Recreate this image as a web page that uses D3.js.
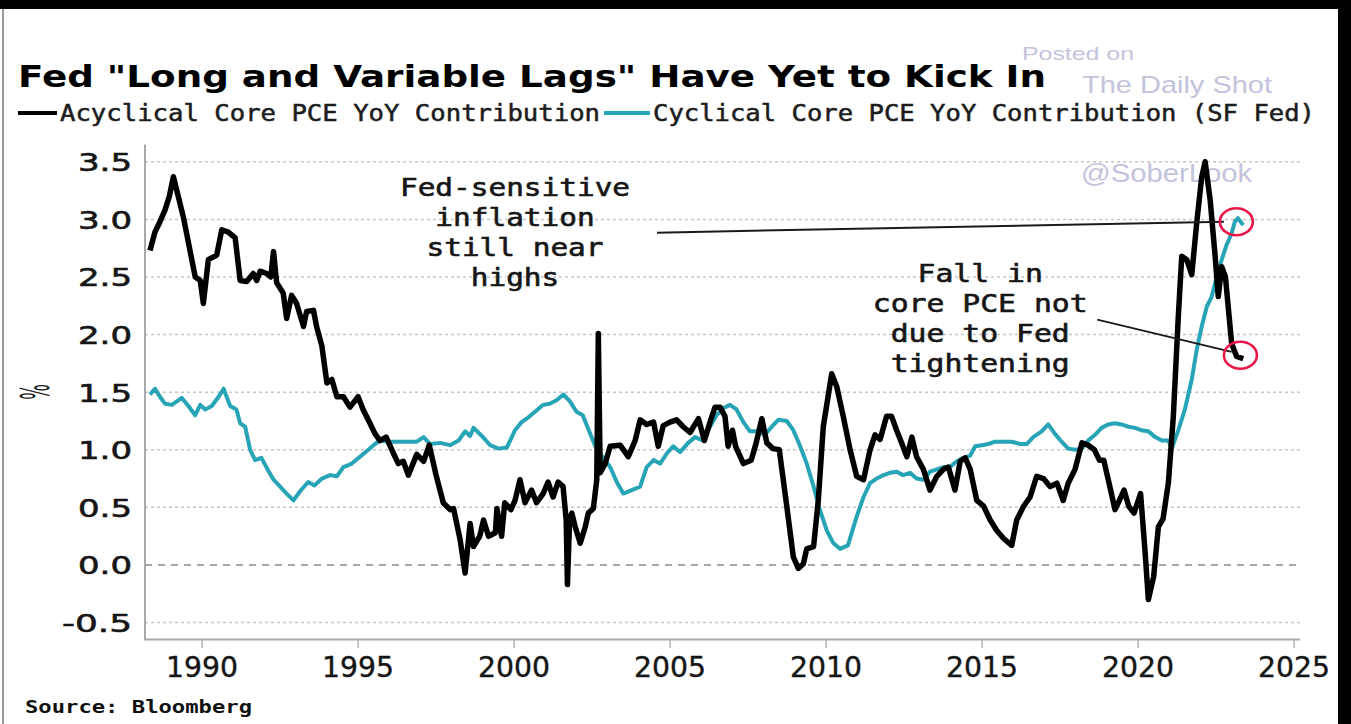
<!DOCTYPE html>
<html><head><meta charset="utf-8">
<script src="https://cdn.jsdelivr.net/npm/d3@7"></script>
<style>body{margin:0;background:#fff;overflow:hidden} svg{display:block}</style>
</head><body><svg id="c" width="1351" height="724"></svg>
<script>
const chartTitle = 'Fed "Long and Variable Lags" Have Yet to Kick In';
const seriesNames = ["Acyclical Core PCE YoY Contribution", "Cyclical Core PCE YoY Contribution (SF Fed)"];
const seriesColors = ["#000000", "#27a4b6"];

const acyclicalDates = [1988.33,1988.49,1988.65,1988.81,1988.95,1989.08,1989.4,1989.78,1989.94,1990.04,1990.2,1990.47,1990.63,1990.84,1991.06,1991.22,1991.43,1991.64,1991.75,1991.86,1992.07,1992.2,1992.29,1992.39,1992.6,1992.71,1992.87,1993.03,1993.25,1993.35,1993.57,1993.67,1993.84,1994.0,1994.16,1994.32,1994.53,1994.74,1995.0,1995.16,1995.38,1995.54,1995.7,1995.9,1996.13,1996.29,1996.45,1996.61,1996.88,1997.1,1997.28,1997.5,1997.73,1997.95,1998.06,1998.27,1998.43,1998.59,1998.7,1998.9,1999.02,1999.18,1999.4,1999.45,1999.6,1999.7,1999.9,2000.03,2000.19,2000.35,2000.56,2000.72,2000.93,2001.09,2001.25,2001.41,2001.57,2001.67,2001.71,2001.78,2001.85,2001.96,2002.12,2002.28,2002.38,2002.54,2002.65,2002.7,2002.76,2002.92,2003.08,2003.4,2003.66,2003.88,2004.04,2004.25,2004.47,2004.62,2004.78,2005.0,2005.21,2005.42,2005.64,2005.91,2006.1,2006.28,2006.44,2006.6,2006.76,2006.86,2007.0,2007.1,2007.35,2007.6,2007.76,2007.94,2008.1,2008.3,2008.5,2008.74,2008.95,2009.11,2009.27,2009.38,2009.6,2009.75,2009.91,2010.18,2010.34,2010.55,2010.77,2010.98,2011.2,2011.41,2011.57,2011.73,2011.94,2012.1,2012.26,2012.42,2012.59,2012.75,2012.9,2013.12,2013.33,2013.55,2013.76,2013.92,2014.13,2014.3,2014.46,2014.62,2014.83,2015.05,2015.26,2015.47,2015.69,2015.95,2016.11,2016.33,2016.54,2016.75,2016.97,2017.18,2017.4,2017.6,2017.76,2017.98,2018.2,2018.4,2018.6,2018.76,2018.9,2019.07,2019.26,2019.4,2019.55,2019.7,2019.87,2020.08,2020.22,2020.33,2020.5,2020.65,2020.8,2020.97,2021.13,2021.29,2021.4,2021.56,2021.72,2021.88,2022.04,2022.15,2022.31,2022.47,2022.57,2022.68,2022.8,2022.89,2023.0,2023.16,2023.37];
const acyclicalValues = [2.73,2.89,2.98,3.08,3.2,3.37,3.02,2.5,2.47,2.27,2.65,2.69,2.91,2.89,2.84,2.47,2.46,2.53,2.47,2.55,2.53,2.5,2.72,2.45,2.36,2.14,2.34,2.27,2.07,2.2,2.21,2.07,1.9,1.58,1.61,1.46,1.46,1.37,1.46,1.35,1.23,1.14,1.08,1.11,0.97,0.88,0.9,0.78,0.96,0.9,1.04,0.78,0.54,0.48,0.49,0.22,-0.07,0.36,0.16,0.25,0.39,0.25,0.28,0.49,0.25,0.54,0.48,0.56,0.74,0.54,0.65,0.54,0.62,0.72,0.59,0.72,0.68,0.39,-0.17,0.4,0.45,0.33,0.19,0.33,0.45,0.49,0.74,2.01,0.8,0.88,1.03,1.04,0.94,1.08,1.26,1.22,1.24,1.03,1.21,1.24,1.26,1.2,1.15,1.27,1.08,1.24,1.37,1.37,1.29,1.03,1.17,1.03,0.88,0.91,1.06,1.27,1.06,1.01,1.0,0.51,0.07,-0.03,0.01,0.14,0.16,0.56,1.2,1.66,1.55,1.29,1.0,0.77,0.74,1.0,1.13,1.09,1.29,1.29,1.17,1.06,0.94,1.11,0.94,0.83,0.65,0.77,0.83,0.85,0.65,0.9,0.93,0.83,0.56,0.51,0.39,0.3,0.23,0.17,0.39,0.51,0.59,0.77,0.75,0.68,0.71,0.56,0.71,0.83,1.06,1.04,1.0,0.91,0.91,0.71,0.48,0.56,0.65,0.51,0.45,0.62,0.13,-0.3,-0.1,0.33,0.4,0.71,1.29,2.16,2.68,2.65,2.52,2.97,3.37,3.5,3.17,2.68,2.33,2.59,2.5,2.24,1.92,1.81,1.79];

const cyclicalDates = [1988.33,1988.49,1988.65,1988.81,1989.03,1989.35,1989.56,1989.78,1989.94,1990.1,1990.31,1990.53,1990.69,1990.9,1991.1,1991.22,1991.38,1991.54,1991.7,1991.9,1992.12,1992.29,1992.5,1992.71,1992.93,1993.14,1993.4,1993.6,1993.84,1994.1,1994.32,1994.53,1994.8,1995.06,1995.33,1995.54,1995.7,1996.03,1996.45,1996.88,1997.1,1997.31,1997.63,1997.95,1998.22,1998.43,1998.59,1998.7,1998.97,1999.23,1999.5,1999.77,2000.03,2000.24,2000.45,2000.67,2000.93,2001.14,2001.36,2001.58,2001.79,2002.0,2002.2,2002.44,2002.65,2002.86,2003.08,2003.29,2003.5,2003.77,2004.04,2004.25,2004.47,2004.68,2004.9,2005.1,2005.32,2005.58,2005.8,2006.06,2006.28,2006.49,2006.7,2006.92,2007.13,2007.35,2007.56,2007.78,2008.04,2008.26,2008.47,2008.74,2008.95,2009.17,2009.38,2009.6,2009.8,2010.02,2010.23,2010.45,2010.7,2010.98,2011.2,2011.41,2011.62,2011.84,2012.05,2012.26,2012.47,2012.69,2012.9,2013.12,2013.33,2013.55,2013.76,2013.97,2014.19,2014.4,2014.62,2014.78,2014.99,2015.2,2015.42,2015.69,2015.95,2016.22,2016.43,2016.64,2016.91,2017.12,2017.33,2017.55,2017.76,2017.98,2018.2,2018.4,2018.62,2018.83,2019.04,2019.26,2019.47,2019.69,2019.9,2020.1,2020.33,2020.55,2020.76,2020.97,2021.08,2021.29,2021.5,2021.72,2021.88,2022.04,2022.2,2022.36,2022.52,2022.68,2022.84,2023.0,2023.1,2023.2,2023.37];
const cyclicalValues = [1.48,1.53,1.46,1.4,1.39,1.45,1.38,1.3,1.39,1.35,1.38,1.46,1.53,1.38,1.35,1.23,1.2,1.0,0.91,0.93,0.82,0.74,0.68,0.62,0.56,0.64,0.72,0.69,0.75,0.78,0.77,0.85,0.88,0.94,1.0,1.05,1.08,1.07,1.07,1.07,1.11,1.05,1.06,1.04,1.08,1.16,1.12,1.19,1.12,1.04,1.01,1.02,1.17,1.24,1.28,1.33,1.39,1.4,1.43,1.48,1.42,1.33,1.3,1.14,1.0,0.93,0.85,0.72,0.62,0.65,0.68,0.85,0.91,0.88,0.97,1.03,0.98,1.06,1.11,1.08,1.2,1.3,1.36,1.39,1.35,1.24,1.16,1.16,1.13,1.2,1.26,1.25,1.17,1.03,0.88,0.68,0.48,0.3,0.19,0.14,0.17,0.42,0.59,0.71,0.75,0.78,0.8,0.81,0.78,0.8,0.75,0.74,0.81,0.83,0.85,0.85,0.9,0.93,0.95,1.03,1.04,1.05,1.07,1.07,1.07,1.05,1.05,1.11,1.16,1.22,1.14,1.07,1.01,1.0,1.01,1.08,1.13,1.19,1.22,1.23,1.22,1.2,1.19,1.17,1.16,1.11,1.08,1.08,1.01,1.17,1.35,1.61,1.87,2.07,2.24,2.33,2.5,2.65,2.78,2.88,2.98,3.01,2.95];

const yTicks = [-0.5, 0, 0.5, 1, 1.5, 2, 2.5, 3, 3.5];
const yTickLabels = ["-0.5", "0.0", "0.5", "1.0", "1.5", "2.0", "2.5", "3.0", "3.5"];
const xTicks = [1990, 1995, 2000, 2005, 2010, 2015, 2020, 2025];
const xTickLabels = ["1990", "1995", "2000", "2005", "2010", "2015", "2020", "2025"];

const note1Lines = ["Fed-sensitive", "inflation", "still near", "highs"];
const note2Lines = ["Fall in", "core PCE not", "due to Fed", "tightening"];
// [date, value] anchors for annotation text, leader lines and circled points
const note1Anchor = [2000.03, 3.20];
const note2Anchor = [2014.94, 2.46];
const leader1 = [[2004.58, 2.885], [2022.75, 2.98]];
const leader2 = [[2018.69, 2.13], [2023.0, 1.85]];
const circledDates = [2023.15, 2023.28];
const circledValues = [2.98, 1.82];
const sourceText = "Source: Bloomberg";
const watermark = ["Posted on", "The Daily Shot", "@SoberLook"];

const svg = d3.select("#c");
const W = 1351, H = 724;
svg.append("rect").attr("width", W).attr("height", H).attr("fill", "#fff");

const x = d3.scaleLinear().domain([1988.17, 2025.19]).range([145, 1300]);
const y = d3.scaleLinear().domain([-0.64, 3.65]).range([638.7, 144.5]);

// frame bits
svg.append("rect").attr("x", 0).attr("y", 0).attr("width", W).attr("height", 9).attr("fill", "#000");
svg.append("rect").attr("x", 1338).attr("y", 0).attr("width", 13).attr("height", H).attr("fill", "#000");
svg.append("line").attr("x1", 3).attr("x2", 3).attr("y1", 9).attr("y2", H).attr("stroke", "#9a9a9a").attr("stroke-width", 2);

// watermark
const wm = svg.append("g").attr("fill", "#c3c3dc").attr("font-family", "Liberation Sans, Arial, sans-serif");
wm.append("text").attr("x", 1022).attr("y", 60).attr("font-size", 18).attr("textLength", 112).attr("lengthAdjust", "spacingAndGlyphs").text(watermark[0]);
wm.append("text").attr("x", 1082).attr("y", 93).attr("font-size", 24).attr("textLength", 190).attr("lengthAdjust", "spacingAndGlyphs").text(watermark[1]);
wm.append("text").attr("x", 1081).attr("y", 182).attr("font-size", 25).attr("textLength", 171)
  .attr("lengthAdjust", "spacingAndGlyphs").text(watermark[2]);

// title
svg.append("text").attr("x", 18).attr("y", 87).attr("font-family", "DejaVu Sans, Verdana, sans-serif")
  .attr("font-weight", "bold").attr("font-size", 30).attr("fill", "#000")
  .attr("textLength", 1028).attr("lengthAdjust", "spacingAndGlyphs").text(chartTitle);

// legend
const lg = svg.append("g").attr("font-family", "DejaVu Sans Mono, monospace").attr("font-size", 23)
  .attr("fill", "#1c1c1c").attr("stroke", "#1c1c1c").attr("stroke-width", 0.5);
const legendItems = [
  {x0: 18, x1: 57, tx: 60, tw: 540},
  {x0: 604, x1: 650, tx: 653, tw: 662}
];
legendItems.forEach((d, i) => {
  lg.append("line").attr("x1", d.x0).attr("x2", d.x1).attr("y1", 113).attr("y2", 113)
    .attr("stroke", seriesColors[i]).attr("stroke-width", 4);
  lg.append("text").attr("x", d.tx).attr("y", 121).attr("textLength", d.tw)
    .attr("lengthAdjust", "spacingAndGlyphs").text(seriesNames[i]);
});

// grid
const grid = svg.append("g");
yTicks.forEach(t => {
  grid.append("line").attr("x1", 145).attr("x2", 1300).attr("y1", y(t)).attr("y2", y(t))
    .attr("stroke", t === 0 ? "#8a8a8a" : "#c6c6c6")
    .attr("stroke-width", t === 0 ? 1.6 : 1.5)
    .attr("stroke-dasharray", t === 0 ? "7,6" : "3,3");
});

// axes lines
svg.append("line").attr("x1", 145).attr("x2", 145).attr("y1", 144.5).attr("y2", 639.5).attr("stroke", "#a9a9a9").attr("stroke-width", 2);
svg.append("line").attr("x1", 144).attr("x2", 1300).attr("y1", 639.5).attr("y2", 639.5).attr("stroke", "#a9a9a9").attr("stroke-width", 2);

// y labels
const yl = svg.append("g").attr("font-family", "DejaVu Sans, Verdana, sans-serif").attr("font-size", 25)
  .attr("fill", "#161616").attr("stroke", "#161616").attr("stroke-width", 0.6).attr("text-anchor", "end");
yTicks.forEach((t, i) => {
  const lab = yTickLabels[i];
  yl.append("text").attr("x", 132).attr("y", y(t) + 9.5)
    .attr("textLength", lab.length === 4 ? 70 : 54).attr("lengthAdjust", "spacingAndGlyphs").text(lab);
});
svg.append("text").attr("transform", "translate(35,392) rotate(-90) scale(0.75,1.8)")
  .attr("font-family", "DejaVu Sans, sans-serif").attr("font-size", 22).attr("fill", "#222")
  .attr("text-anchor", "middle").attr("dominant-baseline", "central").text("%");

// x ticks and labels
const xl = svg.append("g");
xTicks.forEach((t, i) => {
  xl.append("line").attr("x1", x(t)).attr("x2", x(t)).attr("y1", 639.5).attr("y2", 648)
    .attr("stroke", "#b0b0b0").attr("stroke-width", 1.5);
  xl.append("text").attr("x", x(t)).attr("y", 677).attr("text-anchor", "middle")
    .attr("font-family", "DejaVu Sans, Verdana, sans-serif").attr("font-size", 27.5)
    .attr("fill", "#161616").attr("stroke", "#161616").attr("stroke-width", 0.4)
    .attr("textLength", 72).attr("lengthAdjust", "spacingAndGlyphs").text(xTickLabels[i]);
});

// series
const line = d3.line().x(d => x(d[0])).y(d => y(d[1]));
const cyc = cyclicalDates.map((d, i) => [d, cyclicalValues[i]]);
const acy = acyclicalDates.map((d, i) => [d, acyclicalValues[i]]);
svg.append("path").datum(cyc).attr("d", line).attr("fill", "none").attr("stroke", seriesColors[1])
  .attr("stroke-width", 4).attr("stroke-linejoin", "round");
svg.append("path").datum(acy).attr("d", line).attr("fill", "none").attr("stroke", seriesColors[0])
  .attr("stroke-width", 5.5).attr("stroke-linejoin", "round");

// leader lines
[leader1, leader2].forEach(l => {
  svg.append("line").attr("x1", x(l[0][0])).attr("y1", y(l[0][1])).attr("x2", x(l[1][0])).attr("y2", y(l[1][1]))
    .attr("stroke", "#1a1a1a").attr("stroke-width", 2);
});

// circles
circledDates.forEach((d, i) => {
  svg.append("ellipse").attr("cx", x(d)).attr("cy", y(circledValues[i])).attr("rx", 16.5).attr("ry", 13.5)
    .attr("fill", "none").attr("stroke", "#e8174a").attr("stroke-width", 2.6);
});

// annotation texts
function note(lines, anchor, charW) {
  const g = svg.append("g").attr("font-family", "DejaVu Sans Mono, monospace").attr("font-size", 25)
    .attr("fill", "#161616").attr("stroke", "#161616").attr("stroke-width", 0.6).attr("text-anchor", "middle");
  lines.forEach((s, i) => {
    g.append("text").attr("x", x(anchor[0])).attr("y", y(anchor[1]) + i * 30)
      .attr("textLength", s.length * charW).attr("lengthAdjust", "spacingAndGlyphs").text(s);
  });
}
note(note1Lines, note1Anchor, 17.7);
note(note2Lines, note2Anchor, 17.9);

// source
svg.append("text").attr("x", 25).attr("y", 713).attr("font-family", "DejaVu Sans Mono, monospace")
  .attr("font-weight", "bold").attr("font-size", 17.5).attr("fill", "#111")
  .attr("textLength", 227).attr("lengthAdjust", "spacingAndGlyphs").text(sourceText);
</script></body></html>
